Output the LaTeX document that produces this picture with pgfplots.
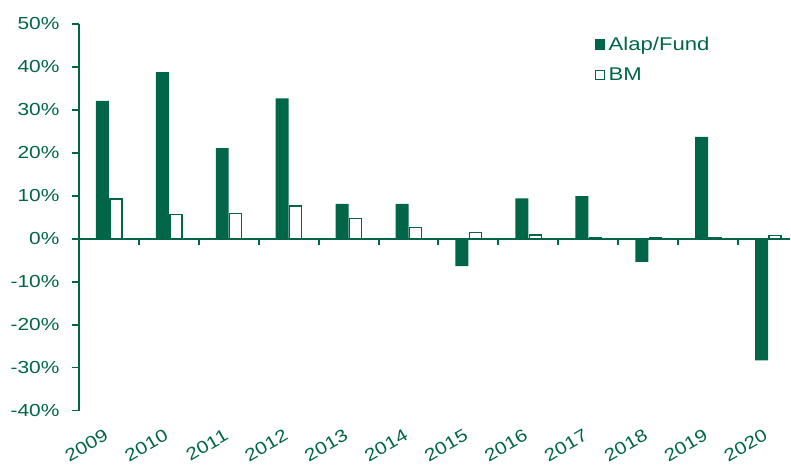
\documentclass[border=0pt]{standalone}
\usepackage{fontspec}
\setmainfont{Liberation Sans}[FakeStretch=1.2]
\usepackage{pgfplots}
\pgfplotsset{compat=1.18}
\definecolor{fundgreen}{RGB}{0,102,71}
\begin{document}
\begin{tikzpicture}
\begin{axis}[
  name=ax,
  scale only axis,
  width=712bp, height=387bp,
  xmin=-0.5, xmax=11.367,
  ymin=-40, ymax=50,
  axis y line*=left,
  axis x line*=bottom,
  y axis line style={fundgreen, line width=1.8bp},
  x axis line style={draw=none},
  every tick/.style={fundgreen, line width=1.8bp},
  tick align=outside,
  major tick length=6.5bp,
  ytick={-40,-30,...,50},
  yticklabels={-40\%,-30\%,-20\%,-10\%,0\%,10\%,20\%,30\%,40\%,50\%},
  yticklabel style={xshift=-9.5bp},
  xtick={0,1,...,11},
  xticklabels={2009,2010,2011,2012,2013,2014,2015,2016,2017,2018,2019,2020},
  xtick style={draw=none},
  xticklabel style={anchor=north east, yshift=-10bp, xshift=-5bp, rotate=30, inner sep=1bp},
  tick label style={font=\fontsize{17.5}{20}\selectfont, text=fundgreen},
  legend style={draw=none, fill=none, at={(0.725,0.972)}, anchor=north west,
    font=\fontsize{18.5}{21}\selectfont, text=fundgreen, row sep=12bp, column sep=1.5bp, inner sep=0pt},
  legend cell align=left,
  clip=false,
]
\addplot[fundgreen, line width=1.8bp, forget plot] coordinates {(-0.5,0) (11.367,0)};
\addplot[fundgreen, line width=2bp, forget plot, unbounded coords=jump] coordinates {
  (0.5,0) (0.5,-1.4) (0.5,nan)
  (1.5,0) (1.5,-1.4) (1.5,nan)
  (2.5,0) (2.5,-1.4) (2.5,nan)
  (3.5,0) (3.5,-1.4) (3.5,nan)
  (4.5,0) (4.5,-1.4) (4.5,nan)
  (5.5,0) (5.5,-1.4) (5.5,nan)
  (6.5,0) (6.5,-1.4) (6.5,nan)
  (7.5,0) (7.5,-1.4) (7.5,nan)
  (8.5,0) (8.5,-1.4) (8.5,nan)
  (9.5,0) (9.5,-1.4) (9.5,nan)
  (10.5,0) (10.5,-1.4)
};
\addplot[ybar, bar width=13bp, bar shift=-6.5bp, fill=fundgreen, draw=none,
  legend image code/.code={\fill[fundgreen] (0bp,-5.25bp) rectangle (10.5bp,5.25bp);}]
  coordinates {(0,32.1) (1,38.8) (2,21.1) (3,32.7) (4,8.1) (5,8.1) (6,-6.4) (7,9.4) (8,9.9) (9,-5.4) (10,23.7) (11,-28.3)};
\addlegendentry{Alap/Fund}
\addplot[ybar, bar width=12bp, bar shift=7bp, fill=white, draw=fundgreen, line width=1.5bp,
  legend image code/.code={\draw[fundgreen, fill=white, line width=1.5bp] (0.75bp,-4.5bp) rectangle (9.75bp,4.5bp);}]
  coordinates {(0,9.3) (1,5.6) (2,5.9) (3,7.6) (4,4.7) (5,2.6) (6,1.5) (7,0.9) (8,0.3) (9,0.3) (10,0.3) (11,0.7)};
\addlegendentry{BM}
\end{axis}
\path ([xshift=-79bp,yshift=-55bp]ax.south west) rectangle ([yshift=24bp]ax.north east);
\end{tikzpicture}
\end{document}
